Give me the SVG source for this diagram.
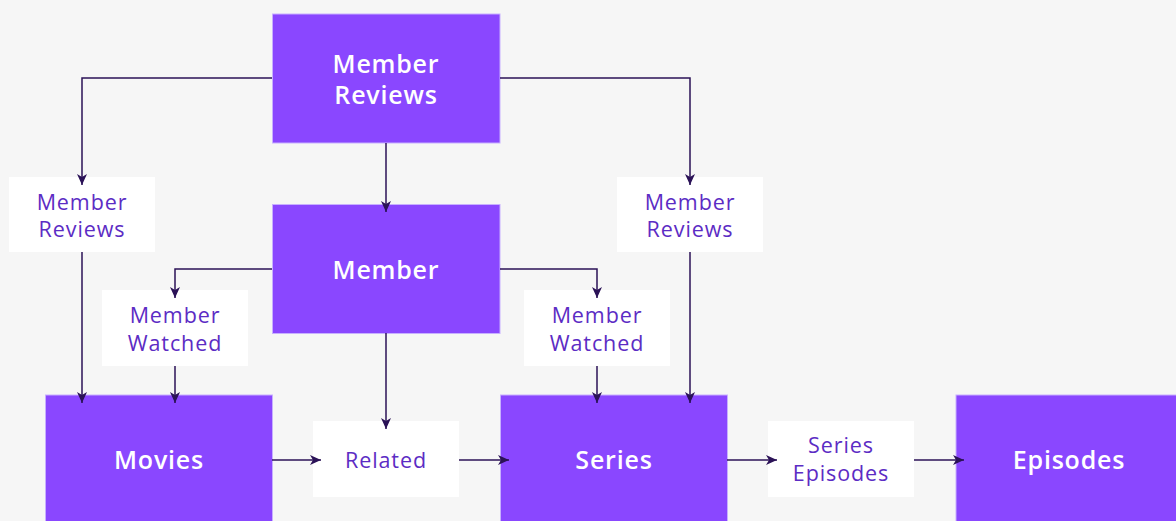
<svg xmlns="http://www.w3.org/2000/svg" width="1176" height="521" viewBox="0 0 1176 521">
<defs>
<marker id="arr" markerWidth="12" markerHeight="12" viewBox="0 0 12 12" refX="11" refY="6" orient="auto" markerUnits="userSpaceOnUse">
<path d="M0,1 L11,6 L0,11 L3,6 Z" fill="#2b1257"/>
</marker>
<style>
.main rect{fill:#8a47ff;stroke:#c7b0ff;stroke-width:1}
.main text{fill:#ffffff;font-family:"Open Sans","Liberation Sans",sans-serif;font-weight:600;font-size:25px;text-anchor:middle;letter-spacing:0.8px}
.lbl rect{fill:#ffffff}
.lbl text{fill:#5c2cc4;font-family:"Open Sans","Liberation Sans",sans-serif;font-size:21.5px;text-anchor:middle;letter-spacing:0.9px}
.conn path{fill:none;stroke:#2b1257;stroke-width:1.5;marker-end:url(#arr)}
</style>
</defs>
<rect width="1176" height="521" fill="#f6f6f6"/>
<g id="member-reviews" class="main"><rect x="272.5" y="14" width="227.5" height="129"/><text x="386" y="73">Member</text><text x="386" y="104">Reviews</text></g>
<g id="member" class="main"><rect x="272.5" y="204.5" width="227.5" height="129"/><text x="386" y="279">Member</text></g>
<g id="movies" class="main"><rect x="45.5" y="395" width="227" height="130"/><text x="159" y="469">Movies</text></g>
<g id="series" class="main"><rect x="500.5" y="395" width="227" height="130"/><text x="614" y="469">Series</text></g>
<g id="episodes" class="main"><rect x="956" y="395" width="227" height="130"/><text x="1069" y="469">Episodes</text></g>
<g id="lbl-reviews-movies" class="lbl"><rect x="9" y="177" width="146" height="75"/><text x="82" y="210">Member</text><text x="82" y="237">Reviews</text></g>
<g id="lbl-reviews-series" class="lbl"><rect x="617" y="177" width="146" height="75"/><text x="690" y="210">Member</text><text x="690" y="237">Reviews</text></g>
<g id="lbl-watched-movies" class="lbl"><rect x="102" y="290" width="146" height="76"/><text x="175" y="323">Member</text><text x="175" y="350.5">Watched</text></g>
<g id="lbl-watched-series" class="lbl"><rect x="524" y="290" width="146" height="76"/><text x="597" y="323">Member</text><text x="597" y="350.5">Watched</text></g>
<g id="lbl-related" class="lbl"><rect x="313" y="421" width="146" height="76"/><text x="386" y="468">Related</text></g>
<g id="lbl-series-episodes" class="lbl"><rect x="768" y="421" width="146" height="76"/><text x="841" y="453">Series</text><text x="841" y="480.5">Episodes</text></g>
<g id="connectors" class="conn">
<path d="M272,78 H82 V185"/>
<path d="M500,78 H690 V185"/>
<path d="M386,143 V212"/>
<path d="M272,269 H175 V298"/>
<path d="M500,269 H597 V298"/>
<path d="M82,252 V403"/>
<path d="M175,366 V403"/>
<path d="M386,333 V429"/>
<path d="M272,460 H321"/>
<path d="M459,460 H509"/>
<path d="M597,366 V403"/>
<path d="M690,252 V403"/>
<path d="M727,460 H777"/>
<path d="M914,460 H964"/>
</g>
</svg>
